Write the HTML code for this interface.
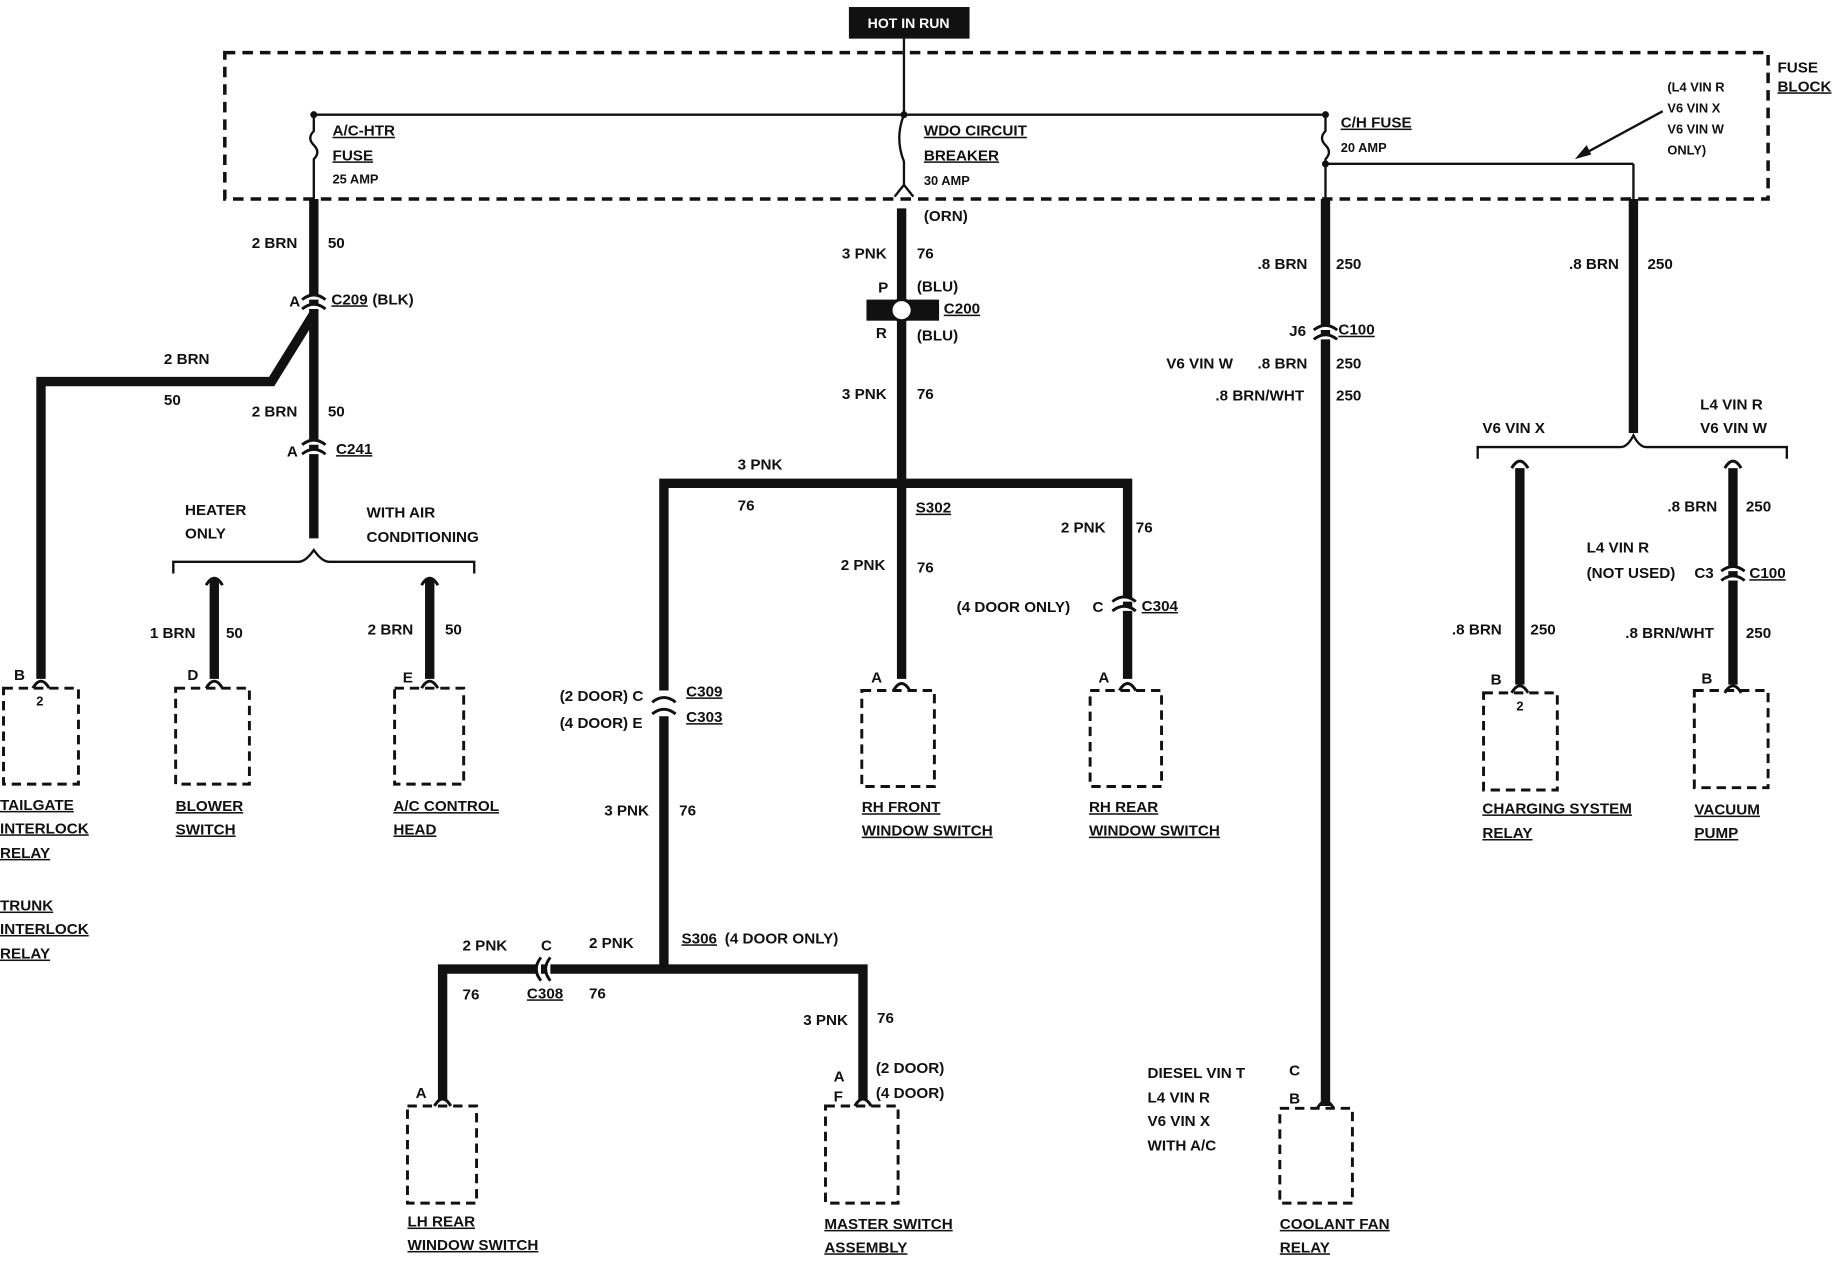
<!DOCTYPE html>
<html><head><meta charset="utf-8"><style>
html,body{margin:0;padding:0;background:#fff;}
svg{display:block;}
text{font-family:"Liberation Sans",sans-serif;font-weight:bold;font-size:13px;fill:#111;}
.u{text-decoration:underline;}
.s{font-size:11px;}
</style></head><body>
<svg width="1836" height="1264" viewBox="0 0 1568 1080" preserveAspectRatio="none" xmlns="http://www.w3.org/2000/svg">
<rect x="0" y="0" width="1568" height="1080" fill="#fff"/>
<rect x="725" y="6" width="103" height="27" fill="#111"/>
<text x="776" y="24" text-anchor="middle" style="fill:#fff;font-size:12px">HOT IN RUN</text>
<rect x="192" y="45" width="1318" height="125" fill="none" stroke="#111" stroke-width="3" stroke-dasharray="9,6"/>
<text x="1518" y="62">FUSE</text><text x="1518" y="78" class="u">BLOCK</text>
<g stroke="#111" stroke-width="2" fill="none">
<line x1="772" y1="33" x2="772" y2="98"/>
<line x1="268" y1="98" x2="1132" y2="98"/>
<path d="M268 98 v14 q-6 6 0 12 q6 6 0 12 v34"/>
<path d="M772 98 q-8 20 0 40 v20"/>
<path d="M764 168 l8 -10 l8 10"/>
<path d="M1132 98 v14 q-6 6 0 12 q6 6 0 12 v34"/>
<line x1="1132" y1="140" x2="1395" y2="140"/>
<line x1="1395" y1="140" x2="1395" y2="170"/>
<line x1="1420" y1="95" x2="1350" y2="133"/>
<path d="M148 490 v-10 h107 q6 0 13 -10 q7 10 13 10 h124 v10"/>
<path d="M1262 392 v-10 h122 q6 0 11 -10 q5 10 11 10 h120 v10"/>
</g>
<path d="M1345 136 l10 -12 l4 8 z" fill="#111"/>
<circle cx="268" cy="98" r="3" fill="#111"/><circle cx="772" cy="98" r="3" fill="#111"/><circle cx="1132" cy="98" r="3" fill="#111"/><circle cx="1132" cy="140" r="3" fill="#111"/>
<g stroke="#111" stroke-width="8" fill="none">
<path d="M268 170 V460"/>
<path d="M268 268 L232 326 H35 V580"/>
<path d="M183 495 V580"/><path d="M367 495 V580"/>
<path d="M770 178 V580"/>
<path d="M567 590 V413 H963 V580"/>
<path d="M567 612 V828"/>
<path d="M378 940 V828 H737 V940"/>
<path d="M1132 170 V945"/>
<path d="M1395 170 V370"/>
<path d="M1298 400 V585"/><path d="M1480 400 V585"/>
</g>
<rect x="740" y="256" width="62" height="18" fill="#111"/>
<g stroke="#111" stroke-width="2.5" fill="#fff">
<path d="M258 264 q10 -8 20 0"/><path d="M258 256 q10 -8 20 0"/>
<path d="M258 388 q10 -8 20 0"/><path d="M258 380 q10 -8 20 0"/>
<path d="M1122 290 q10 -8 20 0"/><path d="M1122 282 q10 -8 20 0"/>
<path d="M950 522 q10 -8 20 0"/><path d="M950 514 q10 -8 20 0"/>
<path d="M1470 496 q10 -8 20 0"/><path d="M1470 488 q10 -8 20 0"/>
<path d="M557 600 q10 -8 20 0"/><path d="M557 610 q10 -8 20 0"/>
<path d="M462 818 q-8 10 0 20"/><path d="M470 818 q-8 10 0 20"/>
<circle cx="770" cy="265" r="9"/>
</g>
<g stroke="#111" stroke-width="2.5" fill="none">
<path d="M28 588 q7 -12 14 0"/><path d="M176 588 q7 -12 14 0"/><path d="M360 588 q7 -12 14 0"/>
<path d="M763 590 q7 -12 14 0"/><path d="M956 590 q7 -12 14 0"/>
<path d="M1291 592 q7 -12 14 0"/><path d="M1473 592 q7 -12 14 0"/>
<path d="M371 945 q7 -12 14 0"/><path d="M730 945 q7 -12 14 0"/><path d="M1125 947 q7 -12 14 0"/>
<path d="M176 500 q7 -12 14 0"/><path d="M360 500 q7 -12 14 0"/>
<path d="M1291 400 q7 -12 14 0"/><path d="M1473 400 q7 -12 14 0"/>
</g>
<g stroke="#111" stroke-width="2.5" fill="none" stroke-dasharray="8,5">
<rect x="3" y="588" width="64" height="82"/>
<rect x="150" y="588" width="63" height="82"/>
<rect x="337" y="588" width="59" height="82"/>
<rect x="736" y="590" width="62" height="82"/>
<rect x="931" y="590" width="61" height="82"/>
<rect x="1267" y="592" width="63" height="83"/>
<rect x="1447" y="590" width="63" height="83"/>
<rect x="348" y="945" width="59" height="83"/>
<rect x="705" y="945" width="62" height="83"/>
<rect x="1093" y="947" width="62" height="81"/>
</g>
<text x="284" y="116" class="u">A/C-HTR</text><text x="284" y="137" class="u">FUSE</text><text x="284" y="157" class="s">25 AMP</text>
<text x="789" y="116" class="u">WDO CIRCUIT</text><text x="789" y="137" class="u">BREAKER</text><text x="789" y="158" class="s">30 AMP</text>
<text x="1145" y="109" class="u">C/H FUSE</text><text x="1145" y="130" class="s">20 AMP</text>
<text x="1424" y="78" class="s">(L4 VIN R</text><text x="1424" y="96" class="s">V6 VIN X</text><text x="1424" y="114" class="s">V6 VIN W</text><text x="1424" y="132" class="s">ONLY)</text>
<text x="215" y="212">2 BRN</text><text x="280" y="212">50</text>
<text x="247" y="262">A</text><text x="283" y="260" class="u">C209</text><text x="318" y="260">(BLK)</text>
<text x="140" y="311">2 BRN</text><text x="140" y="346">50</text>
<text x="215" y="356">2 BRN</text><text x="280" y="356">50</text>
<text x="245" y="390">A</text><text x="287" y="388" class="u">C241</text>
<text x="158" y="440">HEATER</text><text x="158" y="460">ONLY</text>
<text x="313" y="442">WITH AIR</text><text x="313" y="463">CONDITIONING</text>
<text x="128" y="545">1 BRN</text><text x="193" y="545">50</text>
<text x="314" y="542">2 BRN</text><text x="380" y="542">50</text>
<text x="12" y="581">B</text><text x="31" y="603" class="s">2</text>
<text x="160" y="581">D</text><text x="344" y="583">E</text>
<text x="0" y="692" class="u">TAILGATE</text><text x="0" y="712" class="u">INTERLOCK</text><text x="0" y="733" class="u">RELAY</text>
<text x="0" y="778" class="u">TRUNK</text><text x="0" y="798" class="u">INTERLOCK</text><text x="0" y="819" class="u">RELAY</text>
<text x="150" y="693" class="u">BLOWER</text><text x="150" y="713" class="u">SWITCH</text>
<text x="336" y="693" class="u">A/C CONTROL</text><text x="336" y="713" class="u">HEAD</text>
<text x="789" y="189">(ORN)</text>
<text x="719" y="221">3 PNK</text><text x="783" y="221">76</text>
<text x="750" y="250">P</text><text x="783" y="249">(BLU)</text>
<text x="806" y="268" class="u">C200</text>
<text x="748" y="289">R</text><text x="783" y="291">(BLU)</text>
<text x="719" y="341">3 PNK</text><text x="783" y="341">76</text>
<text x="630" y="401">3 PNK</text><text x="630" y="436">76</text>
<text x="782" y="438" class="u">S302</text>
<text x="906" y="455">2 PNK</text><text x="970" y="455">76</text>
<text x="718" y="487">2 PNK</text><text x="783" y="489">76</text>
<text x="817" y="523">(4 DOOR ONLY)</text><text x="933" y="523">C</text><text x="975" y="522" class="u">C304</text>
<text x="744" y="583">A</text><text x="938" y="583">A</text>
<text x="736" y="694" class="u">RH FRONT</text><text x="736" y="714" class="u">WINDOW SWITCH</text>
<text x="930" y="694" class="u">RH REAR</text><text x="930" y="714" class="u">WINDOW SWITCH</text>
<text x="478" y="599">(2 DOOR) C</text><text x="586" y="595" class="u">C309</text>
<text x="478" y="622">(4 DOOR) E</text><text x="586" y="617" class="u">C303</text>
<text x="516" y="697">3 PNK</text><text x="580" y="697">76</text>
<text x="395" y="812">2 PNK</text><text x="462" y="812">C</text><text x="503" y="810">2 PNK</text>
<text x="582" y="806" class="u">S306</text><text x="619" y="806">(4 DOOR ONLY)</text>
<text x="395" y="854">76</text><text x="450" y="853" class="u">C308</text><text x="503" y="853">76</text>
<text x="686" y="876">3 PNK</text><text x="749" y="874">76</text>
<text x="712" y="924">A</text><text x="748" y="917">(2 DOOR)</text>
<text x="712" y="941">F</text><text x="748" y="938">(4 DOOR)</text>
<text x="355" y="938">A</text>
<text x="348" y="1048" class="u">LH REAR</text><text x="348" y="1068" class="u">WINDOW SWITCH</text>
<text x="704" y="1050" class="u">MASTER SWITCH</text><text x="704" y="1070" class="u">ASSEMBLY</text>
<text x="1074" y="230">.8 BRN</text><text x="1141" y="230">250</text>
<text x="1101" y="287">J6</text><text x="1143" y="286" class="u">C100</text>
<text x="996" y="315">V6 VIN W</text><text x="1074" y="315">.8 BRN</text><text x="1141" y="315">250</text>
<text x="1038" y="342">.8 BRN/WHT</text><text x="1141" y="342">250</text>
<text x="1340" y="230">.8 BRN</text><text x="1407" y="230">250</text>
<text x="1266" y="370">V6 VIN X</text>
<text x="1452" y="350">L4 VIN R</text><text x="1452" y="370">V6 VIN W</text>
<text x="1424" y="437">.8 BRN</text><text x="1491" y="437">250</text>
<text x="1355" y="472">L4 VIN R</text><text x="1355" y="494">(NOT USED)</text><text x="1447" y="494">C3</text><text x="1494" y="494" class="u">C100</text>
<text x="1240" y="542">.8 BRN</text><text x="1307" y="542">250</text>
<text x="1388" y="545">.8 BRN/WHT</text><text x="1491" y="545">250</text>
<text x="1273" y="585">B</text><text x="1295" y="607" class="s">2</text><text x="1453" y="584">B</text>
<text x="1266" y="695" class="u">CHARGING SYSTEM</text><text x="1266" y="716" class="u">RELAY</text>
<text x="1447" y="696" class="u">VACUUM</text><text x="1447" y="716" class="u">PUMP</text>
<text x="980" y="921">DIESEL VIN T</text><text x="980" y="942">L4 VIN R</text><text x="980" y="962">V6 VIN X</text><text x="980" y="983">WITH A/C</text>
<text x="1101" y="919">C</text><text x="1101" y="943">B</text>
<text x="1093" y="1050" class="u">COOLANT FAN</text><text x="1093" y="1070" class="u">RELAY</text>
</svg>
</body></html>
